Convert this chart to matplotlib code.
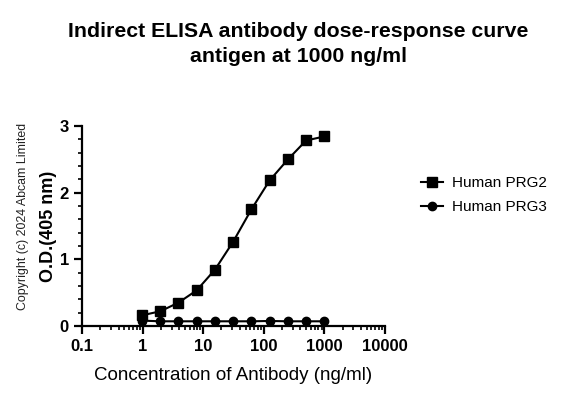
import matplotlib
matplotlib.use("Agg")
import matplotlib.pyplot as plt
from matplotlib.ticker import LogLocator, FixedLocator, MultipleLocator, FixedFormatter

plt.rcParams['font.family'] = ['Liberation Sans', 'DejaVu Sans']

conc = [0.977, 1.953, 3.906, 7.8125, 15.625, 31.25, 62.5, 125, 250, 500, 1000]
prg2 = [0.16, 0.22, 0.35, 0.535, 0.845, 1.265, 1.75, 2.185, 2.50, 2.785, 2.845]
prg3 = [0.08, 0.07, 0.07, 0.07, 0.07, 0.07, 0.07, 0.075, 0.07, 0.07, 0.07]
xticks = [0.1, 1, 10, 100, 1000, 10000]
xticklabels = ["0.1", "1", "10", "100", "1000", "10000"]
yticks = [0, 1, 2, 3]

fig = plt.figure(figsize=(5.66, 3.98), dpi=100)
ax = fig.add_axes([0.145, 0.181, 0.535, 0.502])

ax.plot(conc, prg2, '-', color='black', marker='s', markersize=7, linewidth=1.5, label='Human PRG2', clip_on=False)
ax.plot(conc, prg3, '-', color='black', marker='o', markersize=6, linewidth=1.5, label='Human PRG3', clip_on=False)

ax.set_xscale('log')
ax.set_xlim(0.1, 10000)
ax.set_ylim(0, 3)
ax.xaxis.set_major_locator(FixedLocator(xticks))
ax.xaxis.set_major_formatter(FixedFormatter(xticklabels))
ax.xaxis.set_minor_locator(LogLocator(base=10, subs=range(2, 10), numticks=20))
ax.yaxis.set_major_locator(FixedLocator(yticks))
ax.yaxis.set_minor_locator(MultipleLocator(0.2))

for s in ['top', 'right']:
    ax.spines[s].set_visible(False)
for s in ['left', 'bottom']:
    ax.spines[s].set_linewidth(1.6)

ax.tick_params(axis='both', which='major', direction='out', length=6, width=1.6, labelsize=12)
ax.tick_params(axis='both', which='minor', direction='out', length=3, width=1.2)
for lab in ax.get_xticklabels() + ax.get_yticklabels():
    lab.set_fontweight('bold')

ax.set_xlabel('Concentration of Antibody (ng/ml)', fontsize=13.5, labelpad=9)
ax.set_ylabel('O.D.(405 nm)', fontsize=13, fontweight='bold', labelpad=2)

fig.text(0.527, 0.922, 'Indirect ELISA antibody dose-response curve', ha='center', va='center',
         fontsize=15.3, fontweight='bold')
fig.text(0.527, 0.858, 'antigen at 1000 ng/ml', ha='center', va='center',
         fontsize=15.3, fontweight='bold')
fig.text(0.041, 0.457, 'Copyright (c) 2024 Abcam Limited', rotation=90, ha='center', va='center',
         fontsize=8.9, color='#222222')

fig.legend(handles=ax.get_lines(), loc='center left', bbox_to_anchor=(0.72, 0.51),
           frameon=False, fontsize=11, handlelength=1.4, handletextpad=0.6, labelspacing=0.65)

fig.savefig('out.png', dpi=100)
